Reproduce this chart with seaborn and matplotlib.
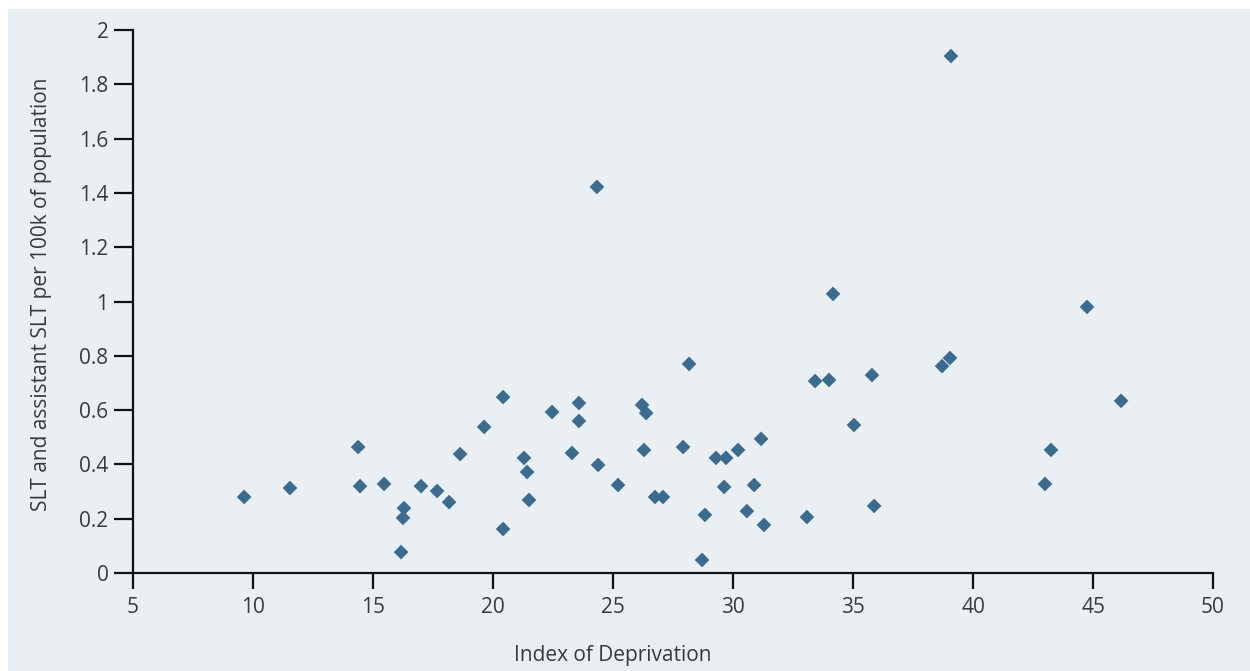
import matplotlib
matplotlib.use("Agg")
import matplotlib.pyplot as plt
import seaborn as sns
import pandas as pd
from matplotlib.patches import Rectangle

deprivation = [9.63, 11.54, 14.38, 14.46, 15.46, 16.29, 16.25, 16.17, 17.0, 17.67,
               18.17, 18.63, 19.63, 20.42, 20.42, 21.29, 21.42, 21.5, 22.46, 23.29,
               23.58, 23.58, 24.33, 24.38, 25.21, 26.21, 26.38, 26.29, 26.75, 27.08,
               27.92, 28.17, 28.71, 28.83, 29.29, 29.71, 29.63, 30.21, 30.58, 30.88,
               31.17, 31.29, 33.08, 33.42, 34.0, 34.17, 35.04, 35.79, 35.88, 38.71,
               39.04, 39.08, 43.0, 43.25, 44.75, 46.17]
slt_rate = [0.28, 0.313, 0.464, 0.32, 0.328, 0.239, 0.203, 0.077, 0.32, 0.302,
            0.261, 0.438, 0.538, 0.648, 0.162, 0.424, 0.372, 0.269, 0.593, 0.442,
            0.626, 0.56, 1.422, 0.398, 0.324, 0.619, 0.589, 0.453, 0.28, 0.28,
            0.464, 0.77, 0.048, 0.214, 0.424, 0.424, 0.317, 0.453, 0.228, 0.324,
            0.494, 0.177, 0.206, 0.707, 0.711, 1.028, 0.545, 0.729, 0.247, 0.762,
            0.792, 1.904, 0.328, 0.453, 0.98, 0.634]

x_ticks = [5, 10, 15, 20, 25, 30, 35, 40, 45, 50]
y_ticks = [0, 0.2, 0.4, 0.6, 0.8, 1.0, 1.2, 1.4, 1.6, 1.8, 2.0]
y_tick_labels = ["0", "0.2", "0.4", "0.6", "0.8", "1", "1.2", "1.4", "1.6", "1.8", "2"]

sns.set_style("white")
plt.rcParams['font.family'] = ['Open Sans', 'DejaVu Sans']

BG = "#eaeff3"
TXT = "#3a3a3a"

fig = plt.figure(figsize=(12.5, 6.71), dpi=100, facecolor="white")
W, H = 1250, 671
fig.patches.append(Rectangle((8 / W, 0), 1 - 8 / W, 1 - 9 / H,
                             transform=fig.transFigure, facecolor=BG,
                             edgecolor="none", zorder=-10))

ax = fig.add_axes([133 / W, 1 - 573 / H, (1213 - 133) / W, (573 - 30) / H])
ax.set_facecolor("none")

df = pd.DataFrame({"x": deprivation, "y": slt_rate})
sns.scatterplot(data=df, x="x", y="y", ax=ax, marker="D", s=56,
                color="#3b6c8f", edgecolor="none", linewidth=0, clip_on=False)

ax.set_xlim(5, 50)
ax.set_ylim(0, 2)
ax.set_xticks(x_ticks)
ax.set_xticklabels([str(t) for t in x_ticks])
ax.set_yticks(y_ticks)
ax.set_yticklabels(y_tick_labels)

for side in ["top", "right"]:
    ax.spines[side].set_visible(False)
for side in ["left", "bottom"]:
    ax.spines[side].set_linewidth(1.6)
    ax.spines[side].set_color("#111111")

ax.tick_params(axis="x", bottom=True, direction="out", length=11.5, width=1.6,
               color="#111111", labelsize=15, labelcolor=TXT, pad=6)
ax.tick_params(axis="y", left=True, direction="out", length=13.7, width=1.6,
               color="#111111", labelsize=15, labelcolor=TXT, pad=4)

ax.set_xlabel("")
ax.set_ylabel("")
fig.text(613 / W, 1 - 655 / H, "Index of Deprivation", ha="center", va="center",
         fontsize=15, color=TXT)
fig.text(42 / W, 1 - 294 / H, "SLT and assistant SLT per 100k of population",
         ha="center", va="center", rotation=90, fontsize=15, color=TXT)

fig.savefig("out.png", dpi=100, facecolor="white")
